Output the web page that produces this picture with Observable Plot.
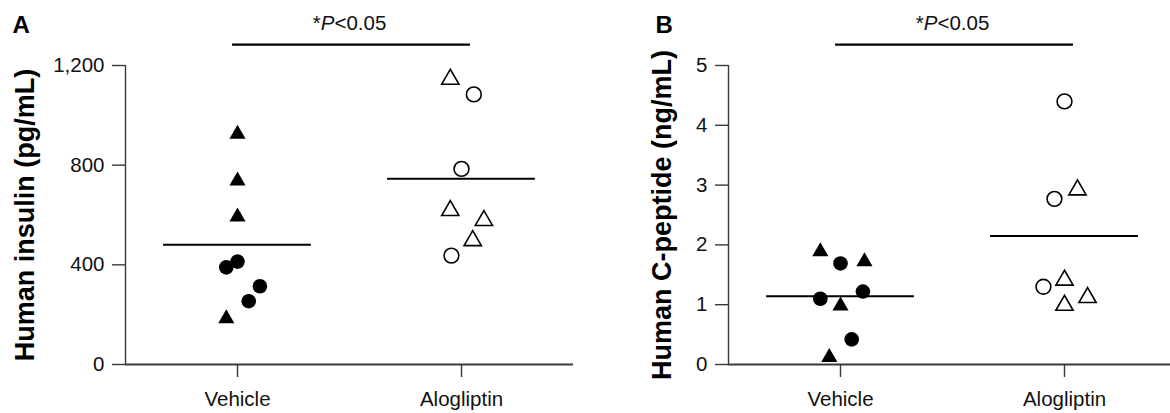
<!DOCTYPE html>
<html><head><meta charset="utf-8">
<script src="https://cdn.jsdelivr.net/npm/d3@7"></script>
<script src="https://cdn.jsdelivr.net/npm/@observablehq/plot@0.6"></script>
<style>
html,body{margin:0;padding:0;background:#fff;overflow:hidden}
#wrap{display:flex;width:1170px;height:413px;overflow:hidden}
#wrap > *{flex:0 0 auto}
</style></head><body><div id="wrap"></div>
<script>
// ---------- data ----------
const groups = ["Vehicle", "Alogliptin"];
const pLabel = "*P<0.05";

// Panel A: human insulin (pg/mL)
const insulinLabel = "Human insulin (pg/mL)";
const insulinTicks = [0, 400, 800, 1200];
const insulinVehicle = [925, 737, 593, 413, 390, 314, 254, 184];
const insulinVehicleShape = ["triangle", "triangle", "triangle", "circle", "circle", "circle", "circle", "triangle"];
const insulinVehicleJitter = [0, 0, 0, 0, -0.05, 0.1, 0.05, -0.05];
const insulinAlo = [1145, 1084, 785, 618, 578, 497, 437];
const insulinAloShape = ["triangle", "circle", "circle", "triangle", "triangle", "triangle", "circle"];
const insulinAloJitter = [-0.05, 0.055, 0, -0.05, 0.1, 0.05, -0.045];
const insulinMeans = [481, 745];
const insulinBracket = 1284;

// Panel B: human C-peptide (ng/mL)
const cpepLabel = "Human C-peptide (ng/mL)";
const cpepTicks = [0, 1, 2, 3, 4, 5];
const cpepVehicle = [1.89, 1.69, 1.72, 1.22, 1.10, 0.98, 0.42, 0.12];
const cpepVehicleShape = ["triangle", "circle", "triangle", "circle", "circle", "triangle", "circle", "triangle"];
const cpepVehicleJitter = [-0.09, 0, 0.107, 0.1, -0.09, 0, 0.05, -0.05];
const cpepAlo = [4.40, 2.77, 2.92, 1.30, 1.41, 1.12, 0.99];
const cpepAloShape = ["circle", "circle", "triangle", "circle", "triangle", "triangle", "triangle"];
const cpepAloJitter = [0, -0.045, 0.058, -0.094, 0, 0.103, 0];
const cpepMeans = [1.14, 2.15];
const cpepBracket = 5.35;

// ---------- helpers ----------
function rows(gi, values, shapes, jitter) {
  return values.map((v, i) => ({g: gi, x: gi + jitter[i], v, shape: shapes[i]}));
}
const FONT = "'Liberation Sans', Arial, Helvetica, sans-serif";
const AXC = "#3a3a3a";

function panel(o) {
  const data = [...rows(0, o.veh, o.vehShape, o.vehJit), ...rows(1, o.alo, o.aloShape, o.aloJit)];
  const sel = (g, s) => data.filter(d => d.g === g && d.shape === s);
  const svg = Plot.plot({
    width: o.width, height: 413,
    marginTop: 65, marginBottom: 49, marginLeft: o.marginLeft, marginRight: o.marginRight,
    x: {domain: [-0.5, 1.5], axis: null},
    y: {domain: [0, o.yMax], axis: null},
    style: {fontFamily: FONT, fontSize: "20px", color: "#111", background: "#fff", overflow: "visible"},
    marks: [
      Plot.ruleX([-0.5], {stroke: AXC, strokeWidth: 1.4}),
      Plot.ruleY([0], {stroke: AXC, strokeWidth: 2}),
      Plot.axisY({ticks: o.ticks, tickFormat: o.fmt, tickSize: 13, tickPadding: 8, stroke: AXC, strokeWidth: 1.4, fill: "#111", fontSize: 20.5, label: null}),
      Plot.axisX({ticks: [0, 1], tickFormat: i => groups[i], tickSize: 13, tickPadding: 14, stroke: AXC, strokeWidth: 1.4, fill: "#111", fontSize: 20.5, label: null}),
      Plot.ruleY(o.means.map((m, i) => ({i, m})), {y: "m", x1: d => d.i - 0.33, x2: d => d.i + 0.33, stroke: "#000", strokeWidth: 2}),
      Plot.ruleY([{y: o.bracket, x1: -0.022, x2: 1.04}], {y: "y", x1: "x1", x2: "x2", stroke: "#000", strokeWidth: 2.2}),
      Plot.dot(sel(0, "circle"), {x: "x", y: "v", symbol: "circle", r: 7.3, fill: "#000", stroke: "none"}),
      Plot.dot(sel(0, "triangle"), {x: "x", y: "v", symbol: "triangle", r: 6, fill: "#000", stroke: "none"}),
      Plot.dot(sel(1, "circle"), {x: "x", y: "v", symbol: "circle", r: 7.4, fill: "#fff", stroke: "#000", strokeWidth: 1.6}),
      Plot.dot(sel(1, "triangle"), {x: "x", y: "v", symbol: "triangle", r: 6.4, fill: "#fff", stroke: "#000", strokeWidth: 1.6}),
      Plot.text([pLabel], {text: d => d, frameAnchor: "top", lineAnchor: "bottom", dy: -36, fontSize: 20.5, fill: "#111"}),
      Plot.text([o.letter], {text: d => d, frameAnchor: "top-left", textAnchor: "start", lineAnchor: "bottom", dx: o.letterDx, dy: -33, fontSize: 24, fontWeight: "bold", fill: "#000"}),
      Plot.text([o.label], {text: d => d, frameAnchor: "left", rotate: -90, textAnchor: "middle", lineAnchor: "middle", dx: o.labelDx, fontSize: 27, fontWeight: "bold", fill: "#000"})
    ]
  });
  // italic P in the significance label
  d3.select(svg).selectAll("text").filter(function() { return this.textContent === pLabel; }).each(function() {
    const t = d3.select(this);
    t.text(null);
    t.append("tspan").text("*");
    t.append("tspan").attr("font-style", "italic").text("P");
    t.append("tspan").text("<0.05");
  });
  return svg;
}

const wrap = document.getElementById("wrap");
wrap.append(panel({
  width: 585, marginLeft: 125, marginRight: 12, yMax: 1200, ticks: insulinTicks, fmt: d3.format(","),
  veh: insulinVehicle, vehShape: insulinVehicleShape, vehJit: insulinVehicleJitter,
  alo: insulinAlo, aloShape: insulinAloShape, aloJit: insulinAloJitter,
  means: insulinMeans, bracket: insulinBracket, letter: "A", letterDx: -113, label: insulinLabel, labelDx: -100
}));
wrap.append(panel({
  width: 591, marginLeft: 143, marginRight: 0, yMax: 5, ticks: cpepTicks, fmt: d3.format("d"),
  veh: cpepVehicle, vehShape: cpepVehicleShape, vehJit: cpepVehicleJitter,
  alo: cpepAlo, aloShape: cpepAloShape, aloJit: cpepAloJitter,
  means: cpepMeans, bracket: cpepBracket, letter: "B", letterDx: -73, label: cpepLabel, labelDx: -66
}));
</script>
</body></html>
